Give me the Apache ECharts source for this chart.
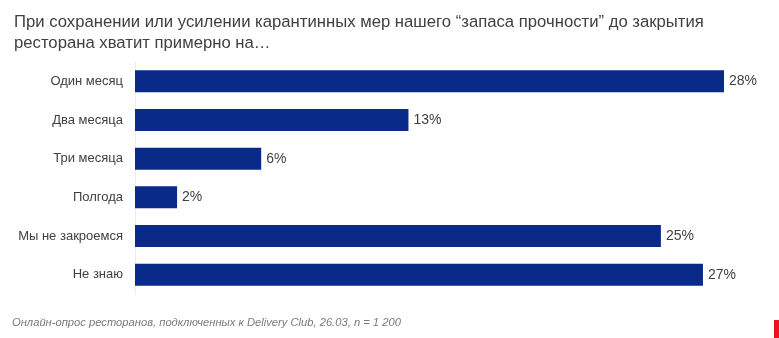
<!DOCTYPE html>
<html>
<head>
<meta charset="utf-8">
<script src="https://cdn.jsdelivr.net/npm/echarts@6/dist/echarts.min.js"></script>
<style>
  html, body { margin: 0; padding: 0; background: #fff; }
  #chart { width: 779px; height: 338px; }
</style>
</head>
<body>
<div id="chart"></div>
<script>
// Survey answers, top to bottom
const categories = ['Один месяц', 'Два месяца', 'Три месяца', 'Полгода', 'Мы не закроемся', 'Не знаю'];
// Share of respondents, %
const shares = [28, 13, 6, 2, 25, 27];

const titleText = 'При сохранении или усилении карантинных мер нашего “запаса прочности” до закрытия\nресторана хватит примерно на…';
const sourceText = 'Онлайн-опрос ресторанов, подключенных к Delivery Club, 26.03, n = 1 200';

const font = '"Liberation Sans", Arial, sans-serif';

const chart = echarts.init(document.getElementById('chart'), null, { renderer: 'canvas' });

chart.setOption({
  backgroundColor: '#ffffff',
  animation: false,
  title: {
    text: titleText,
    left: 9,
    top: 7,
    textStyle: {
      fontFamily: font,
      fontSize: 16.7,
      fontWeight: 'normal',
      color: '#404040',
      lineHeight: 21
    }
  },
  grid: { left: 135, right: 55, top: 62, bottom: 44, containLabel: false },
  xAxis: {
    type: 'value',
    min: 0,
    max: 28,
    show: false
  },
  yAxis: {
    type: 'category',
    inverse: true,
    data: categories,
    axisLine: { show: true, lineStyle: { color: '#ececec', width: 1 } },
    axisTick: { show: false },
    axisLabel: {
      margin: 12,
      fontFamily: font,
      fontSize: 13,
      color: '#404040'
    }
  },
  series: [{
    type: 'bar',
    data: shares,
    barWidth: 22,
    itemStyle: { color: '#0a2a8a' },
    label: {
      show: true,
      position: 'right',
      distance: 5,
      formatter: p => p.value + '%',
      fontFamily: font,
      fontSize: 14,
      color: '#404040'
    }
  }],
  graphic: [
    {
      type: 'text',
      left: 12,
      top: 317,
      style: {
        text: sourceText,
        fontFamily: font,
        fontStyle: 'italic',
        fontSize: 11.2,
        fill: '#7a7a7a'
      }
    },
    {
      type: 'rect',
      right: 0,
      bottom: 0,
      shape: { width: 5, height: 18 },
      style: { fill: '#e8141c' }
    }
  ]
});
</script>
</body>
</html>
